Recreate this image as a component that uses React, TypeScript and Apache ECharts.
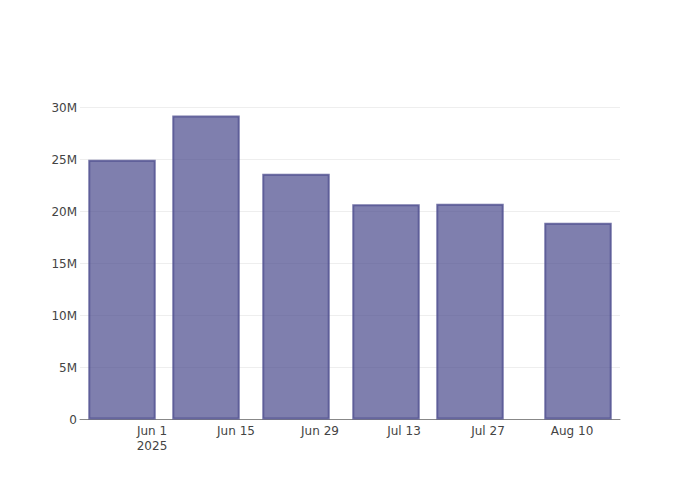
import React, { useEffect, useRef } from "react";
import * as echarts from "echarts";

// Data
const dates = ["2025-05-27", "2025-06-10", "2025-06-25", "2025-07-10", "2025-07-24", "2025-08-11"];
const values = [25.0e6, 29.25e6, 23.64e6, 20.72e6, 20.77e6, 18.92e6];
const xTickLabels = ["Jun 1\n2025", "Jun 15", "Jun 29", "Jul 13", "Jul 27", "Aug 10"];
const yTicks = [0, 5e6, 10e6, 15e6, 20e6, 25e6, 30e6];

const ORIGIN = Date.UTC(2025, 5, 1);
const DAY = 86400000;
const toDay = (s: string) => {
  const [y, m, d] = s.split("-").map(Number);
  return Math.round((Date.UTC(y, m - 1, d) - ORIGIN) / DAY);
};

export default function App() {
  const ref = useRef<HTMLDivElement>(null);
  useEffect(() => {
    if (!ref.current) return;
    const chart = echarts.init(ref.current, undefined, { renderer: "svg" });
    const font = "DejaVu Sans";
    chart.setOption({
      animation: false,
      backgroundColor: "#ffffff",
      grid: { left: 80, right: 80, top: 107.7, bottom: 80.5, containLabel: false },
      xAxis: {
        type: "value",
        min: -12,
        max: 78,
        interval: 2,
        axisLine: { show: true, onZero: false, lineStyle: { color: "#888", width: 1 } },
        axisTick: { show: false },
        splitLine: { show: false },
        axisLabel: {
          margin: 4,
          color: "#444",
          fontFamily: font,
          fontSize: 12,
          lineHeight: 15,
          formatter: (v: number) => {
            if (v >= 0 && v % 14 === 0) {
              const i = v / 14;
              return xTickLabels[i] ?? "";
            }
            return "";
          },
        },
      },
      yAxis: {
        type: "value",
        min: yTicks[0],
        max: yTicks[yTicks.length - 1],
        interval: yTicks[1] - yTicks[0],
        axisLine: { show: false },
        axisTick: { show: false },
        splitLine: { show: true, lineStyle: { color: "#eeeeee", width: 1 } },
        axisLabel: {
          margin: 3,
          color: "#444",
          fontFamily: font,
          fontSize: 12,
          formatter: (v: number) => (v === 0 ? "0" : v / 1e6 + "M"),
        },
      },
      series: [
        {
          type: "bar",
          barWidth: 67.5,
          data: dates.map((d, i) => [toDay(d), values[i]]),
          itemStyle: {
            color: "rgba(72,72,139,0.7)",
            borderColor: "rgba(72,72,139,0.75)",
            borderWidth: 2,
          },
        },
      ],
    });
    return () => chart.dispose();
  }, []);
  return (
    <div
      ref={ref}
      style={{ position: "fixed", left: 0, top: 0, width: 700, height: 500, background: "#fff" }}
    />
  );
}
